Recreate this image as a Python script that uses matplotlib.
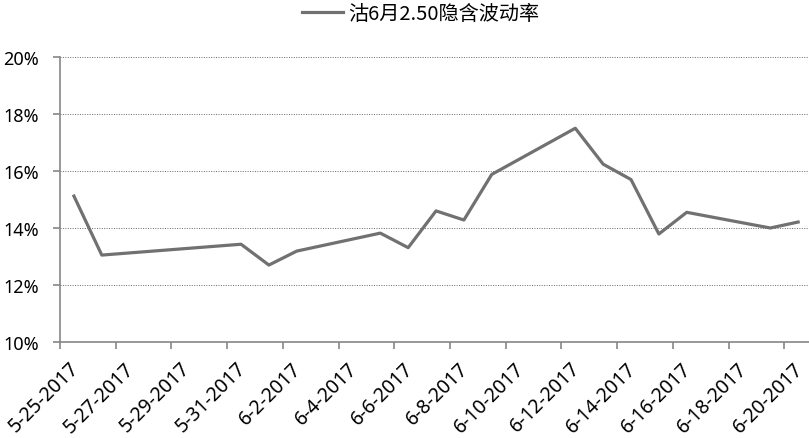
import matplotlib.pyplot as plt
import matplotlib.transforms as mtransforms
import pandas as pd

# trading days and implied vol (%)
dates = ['2017-05-25', '2017-05-26', '2017-05-31', '2017-06-01', '2017-06-02',
         '2017-06-05', '2017-06-06', '2017-06-07', '2017-06-08', '2017-06-09',
         '2017-06-12', '2017-06-13', '2017-06-14', '2017-06-15', '2017-06-16',
         '2017-06-19', '2017-06-20']
vol = [15.12, 13.05, 13.43, 12.70, 13.19,
       13.82, 13.31, 14.60, 14.28, 15.88,
       17.50, 16.24, 15.70, 13.79, 14.55,
       14.00, 14.21]
series_name = '沽6月2.50隐含波动率'
yticks = [10, 12, 14, 16, 18, 20]

start = pd.Timestamp(dates[0])
x = [(pd.Timestamp(d) - start).days for d in dates]
tick_days = list(range(0, 27, 2))
tick_labels = [f"{(start + pd.Timedelta(days=d)).month}-{(start + pd.Timedelta(days=d)).day}-2017"
               for d in tick_days]

plt.rcParams['font.family'] = ['Noto Sans', 'Noto Sans CJK SC', 'DejaVu Sans']

fig = plt.figure(figsize=(8.09, 4.39), dpi=100)
ax = fig.add_axes([60 / 809, (439 - 343) / 439, 1 - 60 / 809, (343 - 58) / 439])

line, = ax.plot(x, vol, color='#717171', linewidth=2.3, label=series_name)

ax.set_xlim(-0.5, 26.39)
ax.set_ylim(10, 20)
ax.set_yticks(yticks)
ax.set_yticklabels([f'{v}%' for v in yticks], fontsize=13)
ax.yaxis.grid(True, linestyle=(0, (1, 1.5)), color='#666666', linewidth=0.7)
ax.set_axisbelow(True)

# date labels drawn as rotated texts, end of text sits right/below the tick
ax.set_xticks([d - 0.5 for d in tick_days])
ax.set_xticklabels([])
trans = ax.get_xaxis_transform() + mtransforms.ScaledTranslation(16 / 100, -23 / 100, fig.dpi_scale_trans)
for d, lab in zip(tick_days, tick_labels):
    ax.text(d - 0.5, 0, lab, transform=trans, fontsize=14, rotation=45,
            ha='right', va='center', rotation_mode='anchor', clip_on=False)

for s in ['top', 'right']:
    ax.spines[s].set_visible(False)
for s in ['left', 'bottom']:
    ax.spines[s].set_color('#868686')
    ax.spines[s].set_linewidth(1.2)
ax.tick_params(axis='both', direction='out', length=5, color='#868686', width=1.2)
ax.tick_params(axis='y', pad=10)

leg = ax.legend(loc='center', bbox_to_anchor=(421 / 809, 1 - 15 / 439),
                bbox_transform=fig.transFigure, frameon=False,
                prop={'family': ['Noto Sans CJK SC', 'DejaVu Sans'], 'size': 14.5},
                handlelength=2.0, handletextpad=0.3)

fig.savefig('out.png', dpi=100)
